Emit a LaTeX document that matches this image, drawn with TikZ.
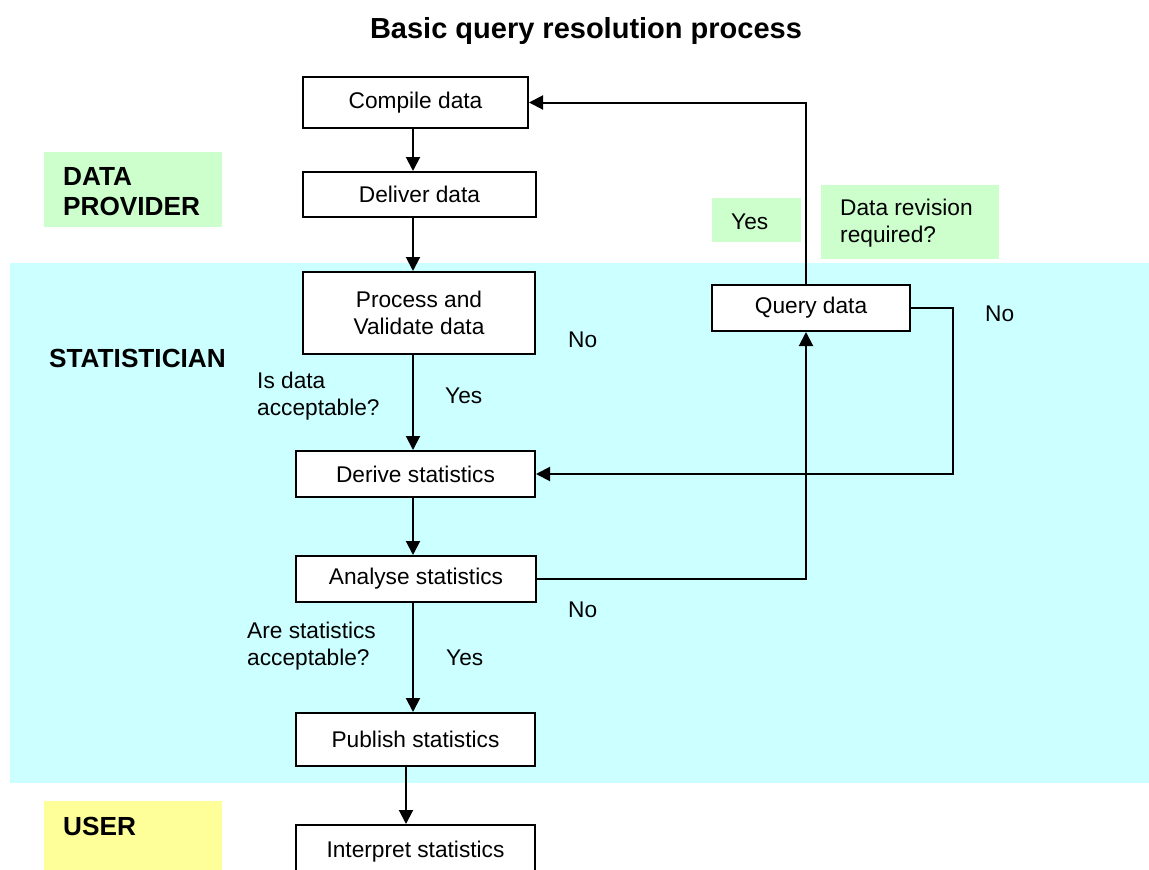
\documentclass[tikz,border=0pt]{standalone}
\usepackage{fontspec}
\setmainfont{Liberation Sans}
\usetikzlibrary{arrows.meta}
\definecolor{bandcyan}{HTML}{CCFFFF}
\definecolor{lblgreen}{HTML}{CCFFCC}
\definecolor{lblyellow}{HTML}{FFFF99}
\newcommand\txtfont{\fontsize{22.7}{27}\selectfont}
\newcommand\rolefont{\fontsize{26.2}{30}\selectfont\bfseries}
\newcommand\ttlfont{\fontsize{29}{34}\selectfont\bfseries}
\tikzset{
  box/.style={draw, line width=2pt, fill=white, font=\txtfont, inner sep=0pt, align=center},
  arr/.style={line width=2pt, -{Triangle[length=14pt,width=14pt]}},
  lbl/.style={font=\txtfont, inner sep=0pt, anchor=base west, align=left},
  role/.style={font=\rolefont, inner sep=0pt, anchor=base west, align=left},
}
\begin{document}
\begin{tikzpicture}[x=1pt,y=-1pt]
\useasboundingbox (0,0) rectangle (1149,870);
\clip (0,0) rectangle (1149,870);
\fill[white] (0,0) rectangle (1149,870);
% background bands and label panels
\fill[bandcyan] (10,263) rectangle (1149,783);
\fill[lblgreen] (44,152) rectangle (222,227);
\fill[lblgreen] (712,198) rectangle (801,242);
\fill[lblgreen] (821,185) rectangle (999,259);
\fill[lblyellow] (44,801) rectangle (222,880);
% title
\node[font=\ttlfont, inner sep=0pt, anchor=base] (title) at (586,38) {Basic query resolution process};
% role labels (base anchor = last line)
\node[role] (provider) at (63,215) {DATA\\PROVIDER};
\node[role] (statistician) at (49,367) {STATISTICIAN};
\node[role] (user) at (63,835) {USER};
% process boxes
\node[box, minimum width=225pt, minimum height=51pt] (compile) at (415.5,102.5) {Compile data};
\node[box, minimum width=233pt, minimum height=45pt] (deliver) at (419.5,194.5) {Deliver data};
\node[box, minimum width=232pt, minimum height=82pt] (process) at (419,313) {Process and\\Validate data};
\node[box, minimum width=239pt, minimum height=46pt] (derive) at (415.5,474) {Derive statistics};
\node[box, minimum width=240pt, minimum height=46pt] (analyse) at (416,579) {Analyse statistics};
\node[box, minimum width=239pt, minimum height=53pt] (publish) at (415.5,739.5) {Publish statistics};
\node[box, minimum width=239pt, minimum height=53pt] (interpret) at (415.5,851.5) {Interpret statistics};
\node[box, minimum width=198pt, minimum height=46pt] (query) at (811,308) {Query data};
% column helpers
\coordinate (colA) at (413,0);
\coordinate (colB) at (406,0);
\coordinate (colQ) at (806,0);
\coordinate (colR) at (953,0);
% connectors
\draw[arr] (compile.south -| colA) -- (deliver.north -| colA);
\draw[arr] (deliver.south -| colA) -- (process.north -| colA);
\draw[arr] (process.south -| colA) -- (derive.north -| colA);
\draw[arr] (derive.south -| colA) -- (analyse.north -| colA);
\draw[arr] (analyse.south -| colA) -- (publish.north -| colA);
\draw[arr] (publish.south -| colB) -- (interpret.north -| colB);
\draw[arr] (query.east) -- (query.east -| colR) |- (derive.east);
\draw[arr] (analyse.east) -| (query.south -| colQ);
\draw[arr] (query.north -| colQ) |- (compile.east);
% decision labels
\node[lbl] (yesrev) at (731,229) {Yes};
\node[lbl] (revq) at (840,242) {Data revision\\required?};
\node[lbl] (noq) at (985,321) {No};
\node[lbl] (nop) at (568,347) {No};
\node[lbl] (isdata) at (257,415) {Is data\\acceptable?};
\node[lbl] (yesd) at (445,403) {Yes};
\node[lbl] (noa) at (568,617) {No};
\node[lbl] (arestats) at (247,665) {Are statistics\\acceptable?};
\node[lbl] (yess) at (446,665) {Yes};
\end{tikzpicture}
\end{document}
